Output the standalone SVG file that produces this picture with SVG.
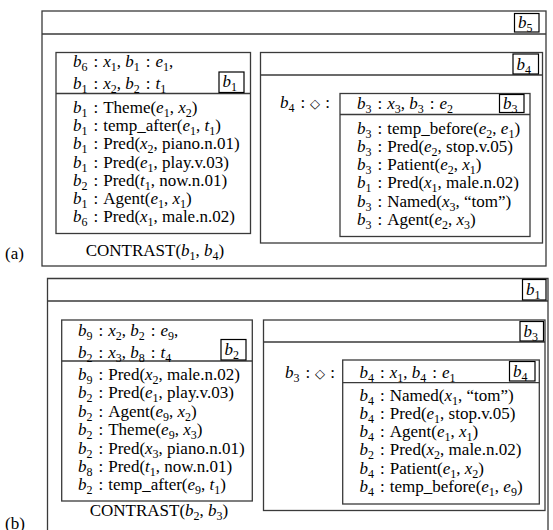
<svg xmlns="http://www.w3.org/2000/svg" width="553" height="530" viewBox="0 0 553 530">
<style>
.t{font-family:"Liberation Serif","Times New Roman",serif;font-size:17px;fill:#000}
.i{font-style:italic}
.s{font-size:12px}
.d{font-size:13px}
.box{fill:none;stroke:#3a3a3a;stroke-width:1.3}
.lb{fill:#fff;stroke:#000;stroke-width:1.2}
.ln{fill:none;stroke:#3a3a3a;stroke-width:1.3}
</style>
<rect width="553" height="530" fill="#fff"/>
<g id="connectors"/>

<g id="drs-a">
<rect class="box" x="42" y="11" width="504" height="255"/>
<line class="ln" x1="42" y1="34" x2="546" y2="34"/>
<rect class="lb" x="514.5" y="13.5" width="24.5" height="18.5"/>
<text class="t" x="518" y="28"><tspan class="i">b</tspan><tspan class="s" dy="4">5</tspan></text>
<text class="t" x="5" y="259">(a)</text>
<text class="t" x="155" y="255.5" text-anchor="middle">CONTRAST(<tspan class="i">b</tspan><tspan class="s" dy="4">1</tspan><tspan dy="-4">, </tspan><tspan class="i">b</tspan><tspan class="s" dy="4">4</tspan><tspan dy="-4">)</tspan></text>
</g>

<g id="box-b1-a">
<rect class="box" x="56" y="52.5" width="194.5" height="181"/>
<line class="ln" x1="56" y1="93.5" x2="250.5" y2="93.5"/>
<rect class="lb" x="219" y="72" width="25" height="20.5"/>
<text class="t" x="222.5" y="87"><tspan class="i">b</tspan><tspan class="s" dy="4">1</tspan></text>
<text class="t" x="73" y="67"><tspan class="i">b</tspan><tspan class="s" dy="4">6</tspan><tspan dy="-4" dx="6">:</tspan><tspan class="i" dx="5">x</tspan><tspan class="s" dy="4">1</tspan><tspan dy="-4">, </tspan><tspan class="i">b</tspan><tspan class="s" dy="4">1</tspan><tspan dy="-4" dx="6">:</tspan><tspan class="i" dx="5">e</tspan><tspan class="s" dy="4">1</tspan><tspan dy="-4">,</tspan></text>
<text class="t" x="73" y="89"><tspan class="i">b</tspan><tspan class="s" dy="4">1</tspan><tspan dy="-4" dx="6">:</tspan><tspan class="i" dx="5">x</tspan><tspan class="s" dy="4">2</tspan><tspan dy="-4">, </tspan><tspan class="i">b</tspan><tspan class="s" dy="4">2</tspan><tspan dy="-4" dx="6">:</tspan><tspan class="i" dx="5">t</tspan><tspan class="s" dy="4">1</tspan></text>
<text class="t" x="73" y="113"><tspan class="i">b</tspan><tspan class="s" dy="4">1</tspan><tspan dy="-4" dx="6">:</tspan><tspan dx="5">Theme(</tspan><tspan class="i">e</tspan><tspan class="s" dy="4">1</tspan><tspan dy="-4">, </tspan><tspan class="i">x</tspan><tspan class="s" dy="4">2</tspan><tspan dy="-4">)</tspan></text>
<text class="t" x="73" y="131.2"><tspan class="i">b</tspan><tspan class="s" dy="4">1</tspan><tspan dy="-4" dx="6">:</tspan><tspan dx="5">temp_after(</tspan><tspan class="i">e</tspan><tspan class="s" dy="4">1</tspan><tspan dy="-4">, </tspan><tspan class="i">t</tspan><tspan class="s" dy="4">1</tspan><tspan dy="-4">)</tspan></text>
<text class="t" x="73" y="149.4"><tspan class="i">b</tspan><tspan class="s" dy="4">1</tspan><tspan dy="-4" dx="6">:</tspan><tspan dx="5">Pred(</tspan><tspan class="i">x</tspan><tspan class="s" dy="4">2</tspan><tspan dy="-4">, piano.n.01)</tspan></text>
<text class="t" x="73" y="167.6"><tspan class="i">b</tspan><tspan class="s" dy="4">1</tspan><tspan dy="-4" dx="6">:</tspan><tspan dx="5">Pred(</tspan><tspan class="i">e</tspan><tspan class="s" dy="4">1</tspan><tspan dy="-4">, play.v.03)</tspan></text>
<text class="t" x="73" y="185.8"><tspan class="i">b</tspan><tspan class="s" dy="4">2</tspan><tspan dy="-4" dx="6">:</tspan><tspan dx="5">Pred(</tspan><tspan class="i">t</tspan><tspan class="s" dy="4">1</tspan><tspan dy="-4">, now.n.01)</tspan></text>
<text class="t" x="73" y="204"><tspan class="i">b</tspan><tspan class="s" dy="4">1</tspan><tspan dy="-4" dx="6">:</tspan><tspan dx="5">Agent(</tspan><tspan class="i">e</tspan><tspan class="s" dy="4">1</tspan><tspan dy="-4">, </tspan><tspan class="i">x</tspan><tspan class="s" dy="4">1</tspan><tspan dy="-4">)</tspan></text>
<text class="t" x="73" y="222.2"><tspan class="i">b</tspan><tspan class="s" dy="4">6</tspan><tspan dy="-4" dx="6">:</tspan><tspan dx="5">Pred(</tspan><tspan class="i">x</tspan><tspan class="s" dy="4">1</tspan><tspan dy="-4">, male.n.02)</tspan></text>
</g>

<g id="box-b4-a">
<rect class="box" x="260.5" y="52.5" width="282" height="190.5"/>
<line class="ln" x1="260.5" y1="75" x2="542.5" y2="75"/>
<rect class="lb" x="513" y="54" width="25.5" height="20"/>
<text class="t" x="516.5" y="69.5"><tspan class="i">b</tspan><tspan class="s" dy="4">4</tspan></text>
<text class="t" x="280" y="108"><tspan class="i">b</tspan><tspan class="s" dy="4">4</tspan><tspan dy="-4" dx="6">:</tspan><tspan class="d" dx="5">◇</tspan><tspan dx="5">:</tspan></text>
</g>

<g id="box-b3-a">
<rect class="box" x="340" y="93.5" width="190" height="143"/>
<line class="ln" x1="340" y1="114.5" x2="530" y2="114.5"/>
<rect class="lb" x="499.5" y="94.5" width="24.5" height="18"/>
<text class="t" x="503" y="109"><tspan class="i">b</tspan><tspan class="s" dy="4">3</tspan></text>
<text class="t" x="357" y="109"><tspan class="i">b</tspan><tspan class="s" dy="4">3</tspan><tspan dy="-4" dx="6">:</tspan><tspan class="i" dx="5">x</tspan><tspan class="s" dy="4">3</tspan><tspan dy="-4">, </tspan><tspan class="i">b</tspan><tspan class="s" dy="4">3</tspan><tspan dy="-4" dx="6">:</tspan><tspan class="i" dx="5">e</tspan><tspan class="s" dy="4">2</tspan></text>
<text class="t" x="357" y="133.5"><tspan class="i">b</tspan><tspan class="s" dy="4">3</tspan><tspan dy="-4" dx="6">:</tspan><tspan dx="5">temp_before(</tspan><tspan class="i">e</tspan><tspan class="s" dy="4">2</tspan><tspan dy="-4">, </tspan><tspan class="i">e</tspan><tspan class="s" dy="4">1</tspan><tspan dy="-4">)</tspan></text>
<text class="t" x="357" y="151.8"><tspan class="i">b</tspan><tspan class="s" dy="4">3</tspan><tspan dy="-4" dx="6">:</tspan><tspan dx="5">Pred(</tspan><tspan class="i">e</tspan><tspan class="s" dy="4">2</tspan><tspan dy="-4">, stop.v.05)</tspan></text>
<text class="t" x="357" y="170.1"><tspan class="i">b</tspan><tspan class="s" dy="4">3</tspan><tspan dy="-4" dx="6">:</tspan><tspan dx="5">Patient(</tspan><tspan class="i">e</tspan><tspan class="s" dy="4">2</tspan><tspan dy="-4">, </tspan><tspan class="i">x</tspan><tspan class="s" dy="4">1</tspan><tspan dy="-4">)</tspan></text>
<text class="t" x="357" y="188.4"><tspan class="i">b</tspan><tspan class="s" dy="4">1</tspan><tspan dy="-4" dx="6">:</tspan><tspan dx="5">Pred(</tspan><tspan class="i">x</tspan><tspan class="s" dy="4">1</tspan><tspan dy="-4">, male.n.02)</tspan></text>
<text class="t" x="357" y="206.7"><tspan class="i">b</tspan><tspan class="s" dy="4">3</tspan><tspan dy="-4" dx="6">:</tspan><tspan dx="5">Named(</tspan><tspan class="i">x</tspan><tspan class="s" dy="4">3</tspan><tspan dy="-4">, “tom”)</tspan></text>
<text class="t" x="357" y="225"><tspan class="i">b</tspan><tspan class="s" dy="4">3</tspan><tspan dy="-4" dx="6">:</tspan><tspan dx="5">Agent(</tspan><tspan class="i">e</tspan><tspan class="s" dy="4">2</tspan><tspan dy="-4">, </tspan><tspan class="i">x</tspan><tspan class="s" dy="4">3</tspan><tspan dy="-4">)</tspan></text>
</g>

<g id="drs-b">
<path class="ln" d="M47.5,531 V278.5 H548 V531"/>
<line class="ln" x1="47.5" y1="301" x2="548" y2="301"/>
<rect class="lb" x="522.5" y="279.5" width="23.5" height="20.5"/>
<text class="t" x="526" y="295"><tspan class="i">b</tspan><tspan class="s" dy="4">1</tspan></text>
<text class="t" x="5" y="529">(b)</text>
<text class="t" x="159" y="515.5" text-anchor="middle">CONTRAST(<tspan class="i">b</tspan><tspan class="s" dy="4">2</tspan><tspan dy="-4">, </tspan><tspan class="i">b</tspan><tspan class="s" dy="4">3</tspan><tspan dy="-4">)</tspan></text>
</g>

<g id="box-b2-b">
<rect class="box" x="61.7" y="320" width="190.6" height="181"/>
<line class="ln" x1="61.7" y1="361" x2="252.3" y2="361"/>
<rect class="lb" x="221" y="339.5" width="25" height="20.5"/>
<text class="t" x="224.5" y="354.5"><tspan class="i">b</tspan><tspan class="s" dy="4">2</tspan></text>
<text class="t" x="78" y="335.5"><tspan class="i">b</tspan><tspan class="s" dy="4">9</tspan><tspan dy="-4" dx="6">:</tspan><tspan class="i" dx="5">x</tspan><tspan class="s" dy="4">2</tspan><tspan dy="-4">, </tspan><tspan class="i">b</tspan><tspan class="s" dy="4">2</tspan><tspan dy="-4" dx="6">:</tspan><tspan class="i" dx="5">e</tspan><tspan class="s" dy="4">9</tspan><tspan dy="-4">,</tspan></text>
<text class="t" x="78" y="357.5"><tspan class="i">b</tspan><tspan class="s" dy="4">2</tspan><tspan dy="-4" dx="6">:</tspan><tspan class="i" dx="5">x</tspan><tspan class="s" dy="4">3</tspan><tspan dy="-4">, </tspan><tspan class="i">b</tspan><tspan class="s" dy="4">8</tspan><tspan dy="-4" dx="6">:</tspan><tspan class="i" dx="5">t</tspan><tspan class="s" dy="4">4</tspan></text>
<text class="t" x="78" y="380"><tspan class="i">b</tspan><tspan class="s" dy="4">9</tspan><tspan dy="-4" dx="6">:</tspan><tspan dx="5">Pred(</tspan><tspan class="i">x</tspan><tspan class="s" dy="4">2</tspan><tspan dy="-4">, male.n.02)</tspan></text>
<text class="t" x="78" y="398.4"><tspan class="i">b</tspan><tspan class="s" dy="4">2</tspan><tspan dy="-4" dx="6">:</tspan><tspan dx="5">Pred(</tspan><tspan class="i">e</tspan><tspan class="s" dy="4">1</tspan><tspan dy="-4">, play.v.03)</tspan></text>
<text class="t" x="78" y="416.8"><tspan class="i">b</tspan><tspan class="s" dy="4">2</tspan><tspan dy="-4" dx="6">:</tspan><tspan dx="5">Agent(</tspan><tspan class="i">e</tspan><tspan class="s" dy="4">9</tspan><tspan dy="-4">, </tspan><tspan class="i">x</tspan><tspan class="s" dy="4">2</tspan><tspan dy="-4">)</tspan></text>
<text class="t" x="78" y="435.2"><tspan class="i">b</tspan><tspan class="s" dy="4">2</tspan><tspan dy="-4" dx="6">:</tspan><tspan dx="5">Theme(</tspan><tspan class="i">e</tspan><tspan class="s" dy="4">9</tspan><tspan dy="-4">, </tspan><tspan class="i">x</tspan><tspan class="s" dy="4">3</tspan><tspan dy="-4">)</tspan></text>
<text class="t" x="78" y="453.6"><tspan class="i">b</tspan><tspan class="s" dy="4">2</tspan><tspan dy="-4" dx="6">:</tspan><tspan dx="5">Pred(</tspan><tspan class="i">x</tspan><tspan class="s" dy="4">3</tspan><tspan dy="-4">, piano.n.01)</tspan></text>
<text class="t" x="78" y="472"><tspan class="i">b</tspan><tspan class="s" dy="4">8</tspan><tspan dy="-4" dx="6">:</tspan><tspan dx="5">Pred(</tspan><tspan class="i">t</tspan><tspan class="s" dy="4">1</tspan><tspan dy="-4">, now.n.01)</tspan></text>
<text class="t" x="78" y="490.4"><tspan class="i">b</tspan><tspan class="s" dy="4">2</tspan><tspan dy="-4" dx="6">:</tspan><tspan dx="5">temp_after(</tspan><tspan class="i">e</tspan><tspan class="s" dy="4">9</tspan><tspan dy="-4">, </tspan><tspan class="i">t</tspan><tspan class="s" dy="4">1</tspan><tspan dy="-4">)</tspan></text>
</g>

<g id="box-b3-b">
<rect class="box" x="263.5" y="320" width="281.5" height="190.5"/>
<line class="ln" x1="263.5" y1="342" x2="545" y2="342"/>
<rect class="lb" x="520" y="321.5" width="23.5" height="19.5"/>
<text class="t" x="523.5" y="336.5"><tspan class="i">b</tspan><tspan class="s" dy="4">3</tspan></text>
<text class="t" x="285" y="378"><tspan class="i">b</tspan><tspan class="s" dy="4">3</tspan><tspan dy="-4" dx="6">:</tspan><tspan class="d" dx="5">◇</tspan><tspan dx="5">:</tspan></text>
</g>

<g id="box-b4-b">
<rect class="box" x="342.7" y="360" width="196.6" height="144"/>
<line class="ln" x1="342.7" y1="382.7" x2="539.3" y2="382.7"/>
<rect class="lb" x="509.5" y="361.5" width="25.5" height="19.5"/>
<text class="t" x="513" y="376.5"><tspan class="i">b</tspan><tspan class="s" dy="4">4</tspan></text>
<text class="t" x="359.5" y="377.5"><tspan class="i">b</tspan><tspan class="s" dy="4">4</tspan><tspan dy="-4" dx="6">:</tspan><tspan class="i" dx="5">x</tspan><tspan class="s" dy="4">1</tspan><tspan dy="-4">, </tspan><tspan class="i">b</tspan><tspan class="s" dy="4">4</tspan><tspan dy="-4" dx="6">:</tspan><tspan class="i" dx="5">e</tspan><tspan class="s" dy="4">1</tspan></text>
<text class="t" x="359.5" y="400.5"><tspan class="i">b</tspan><tspan class="s" dy="4">4</tspan><tspan dy="-4" dx="6">:</tspan><tspan dx="5">Named(</tspan><tspan class="i">x</tspan><tspan class="s" dy="4">1</tspan><tspan dy="-4">, “tom”)</tspan></text>
<text class="t" x="359.5" y="418.8"><tspan class="i">b</tspan><tspan class="s" dy="4">4</tspan><tspan dy="-4" dx="6">:</tspan><tspan dx="5">Pred(</tspan><tspan class="i">e</tspan><tspan class="s" dy="4">1</tspan><tspan dy="-4">, stop.v.05)</tspan></text>
<text class="t" x="359.5" y="437.1"><tspan class="i">b</tspan><tspan class="s" dy="4">4</tspan><tspan dy="-4" dx="6">:</tspan><tspan dx="5">Agent(</tspan><tspan class="i">e</tspan><tspan class="s" dy="4">1</tspan><tspan dy="-4">, </tspan><tspan class="i">x</tspan><tspan class="s" dy="4">1</tspan><tspan dy="-4">)</tspan></text>
<text class="t" x="359.5" y="455.4"><tspan class="i">b</tspan><tspan class="s" dy="4">2</tspan><tspan dy="-4" dx="6">:</tspan><tspan dx="5">Pred(</tspan><tspan class="i">x</tspan><tspan class="s" dy="4">2</tspan><tspan dy="-4">, male.n.02)</tspan></text>
<text class="t" x="359.5" y="473.7"><tspan class="i">b</tspan><tspan class="s" dy="4">4</tspan><tspan dy="-4" dx="6">:</tspan><tspan dx="5">Patient(</tspan><tspan class="i">e</tspan><tspan class="s" dy="4">1</tspan><tspan dy="-4">, </tspan><tspan class="i">x</tspan><tspan class="s" dy="4">2</tspan><tspan dy="-4">)</tspan></text>
<text class="t" x="359.5" y="492"><tspan class="i">b</tspan><tspan class="s" dy="4">4</tspan><tspan dy="-4" dx="6">:</tspan><tspan dx="5">temp_before(</tspan><tspan class="i">e</tspan><tspan class="s" dy="4">1</tspan><tspan dy="-4">, </tspan><tspan class="i">e</tspan><tspan class="s" dy="4">9</tspan><tspan dy="-4">)</tspan></text>
</g>
</svg>
